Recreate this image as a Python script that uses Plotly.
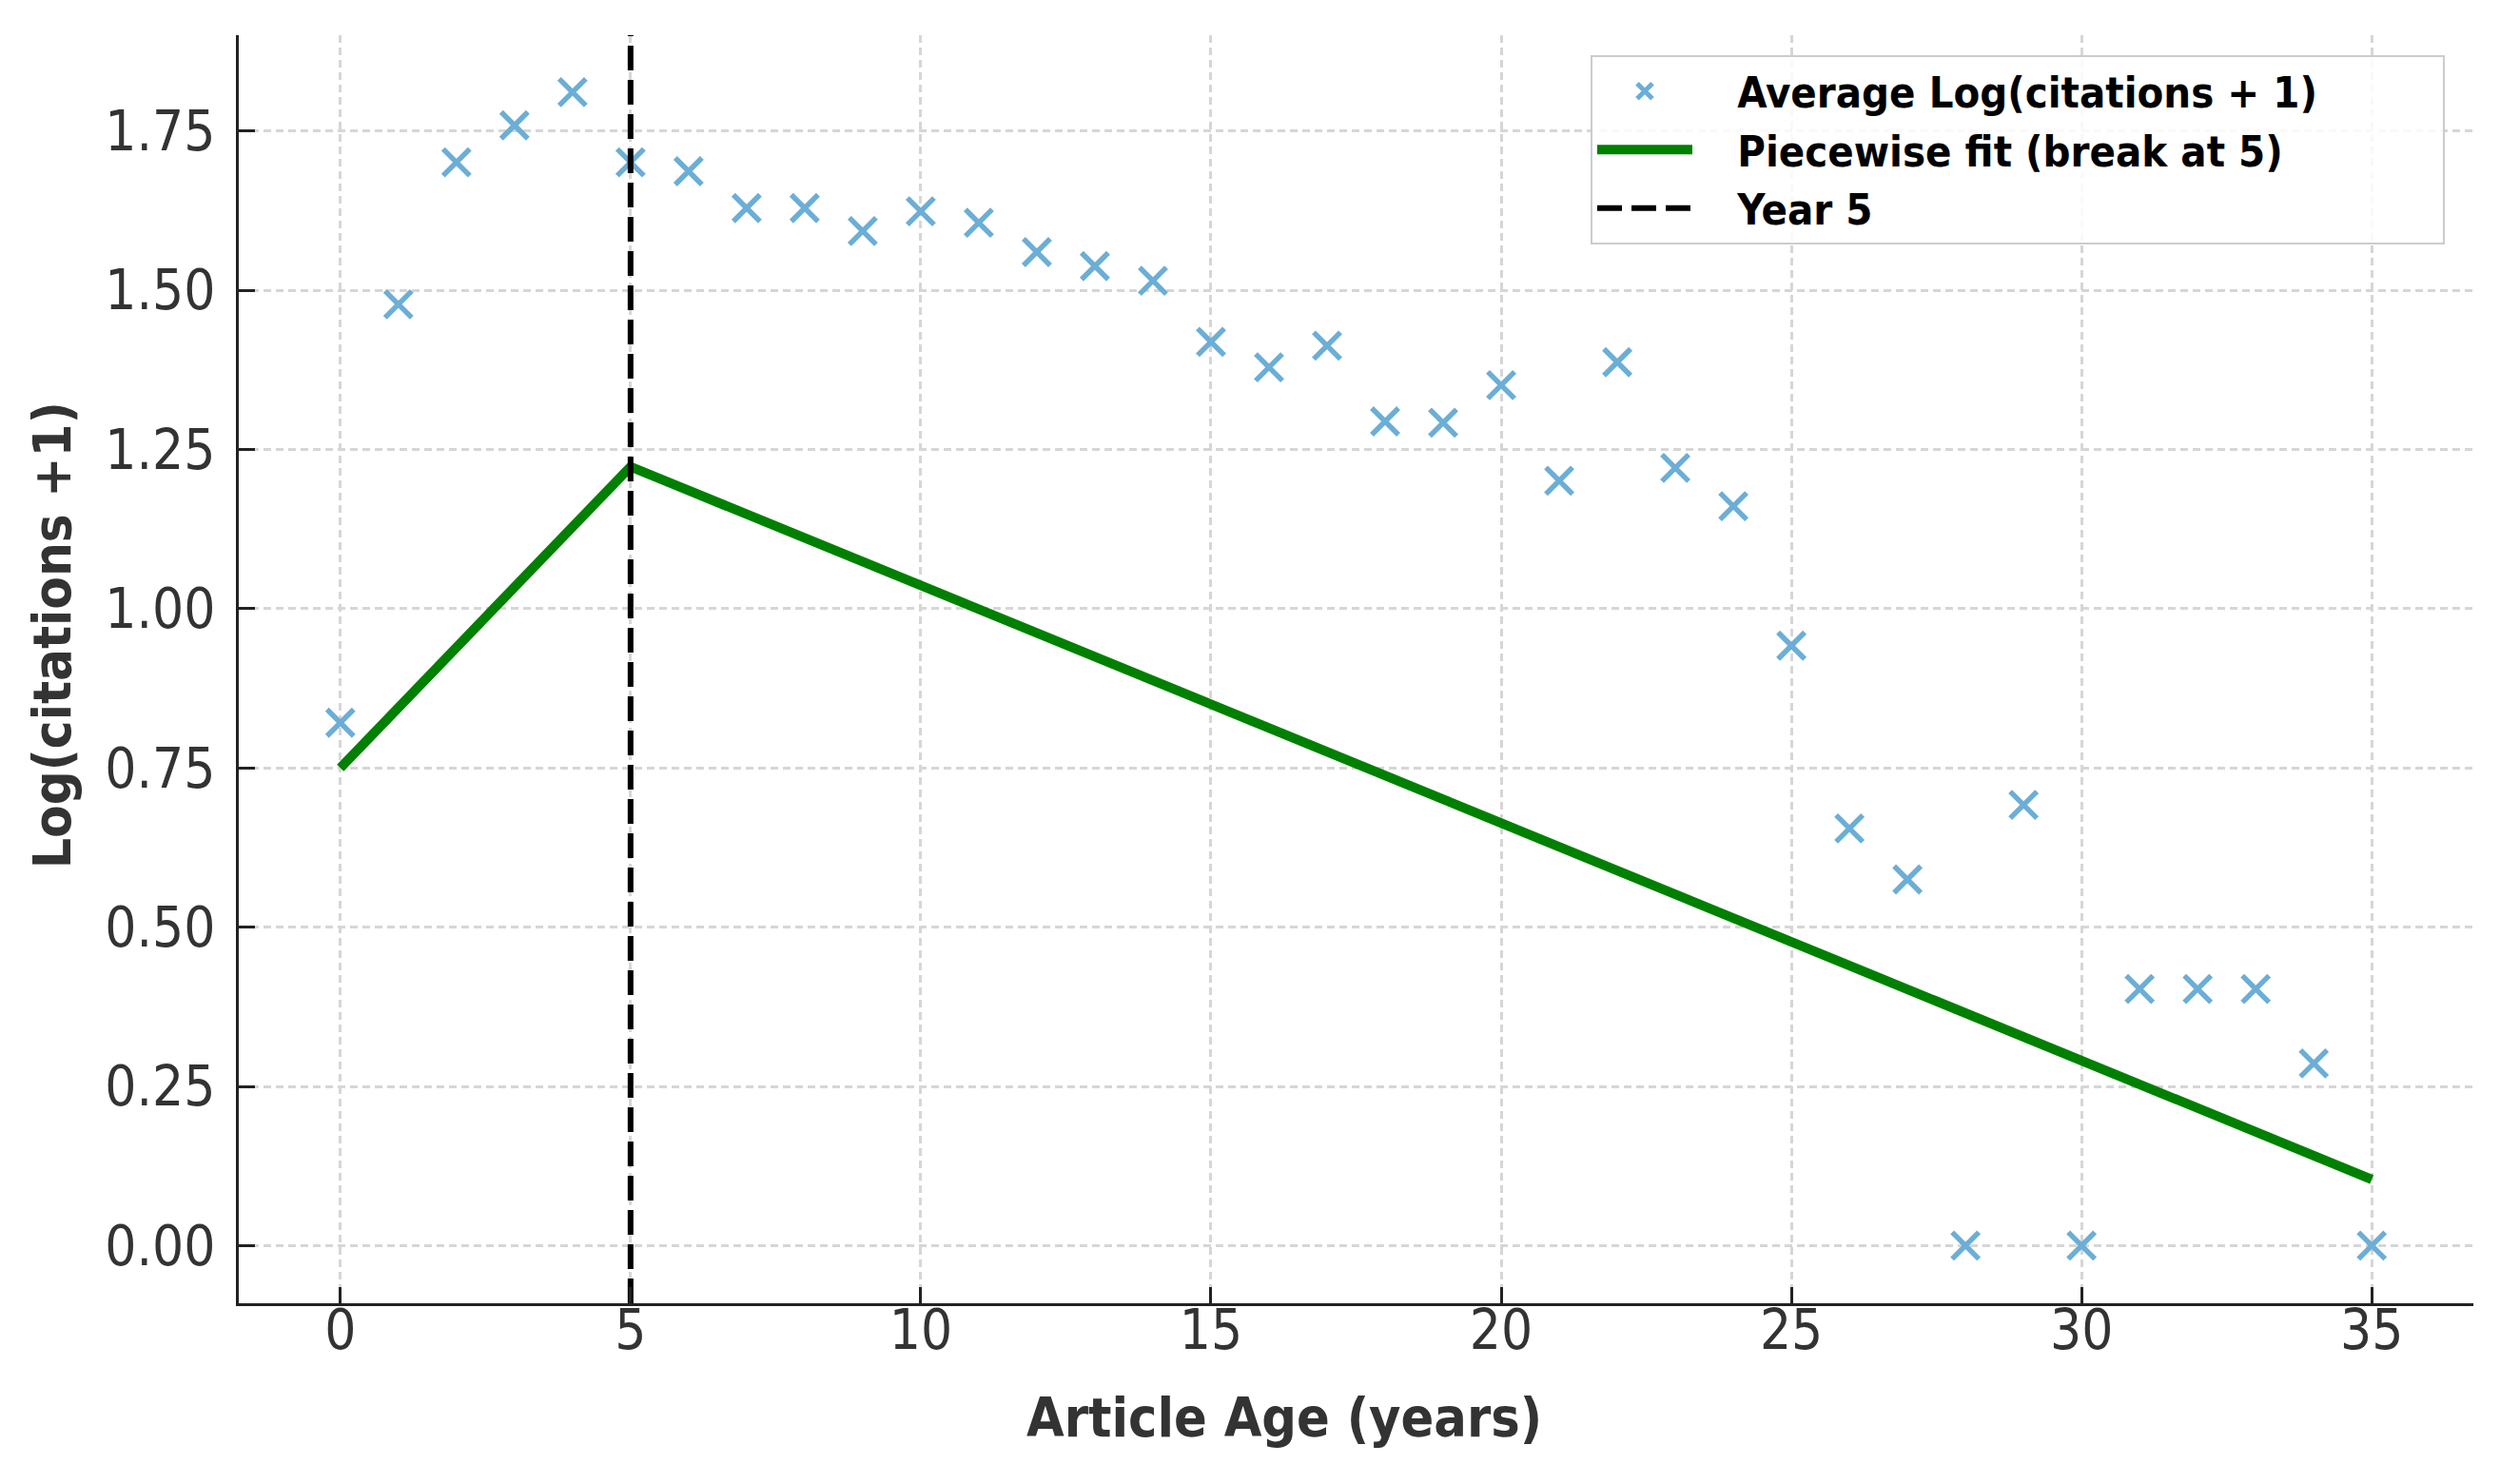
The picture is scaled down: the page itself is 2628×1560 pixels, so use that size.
import plotly.graph_objects as go

# ---- data ----
ages = list(range(0, 36))
avg_log_cit = [0.821, 1.478, 1.701, 1.759, 1.811, 1.701, 1.687, 1.629, 1.629, 1.593,
               1.624, 1.606, 1.560, 1.538, 1.515, 1.419, 1.379, 1.413, 1.294, 1.292,
               1.351, 1.201, 1.387, 1.221, 1.161, 0.942, 0.655, 0.575, 0.0, 0.692,
               0.0, 0.403, 0.403, 0.403, 0.286, 0.0]
fit_x = [0, 5, 35]
fit_y = [0.750, 1.223, 0.104]
break_year = 5

x_range = [-1.75, 36.75]
y_range = [-0.0905, 1.9005]
x_ticks = [0, 5, 10, 15, 20, 25, 30, 35]
y_ticks = [0.0, 0.25, 0.5, 0.75, 1.0, 1.25, 1.5, 1.75]

COND = "DejaVu Sans Condensed, Liberation Sans Narrow, DejaVu Sans, sans-serif"
NB = "\u00a0"

fig = go.Figure()
fig.add_trace(go.Scatter(
    x=ages, y=avg_log_cit, mode="markers",
    name=NB * 3 + "Average Log(citations + 1)" + NB * 9,
    marker=dict(symbol="x-thin", size=28, color="#6baed6",
                line=dict(color="#6baed6", width=5.5)),
))
fig.add_trace(go.Scatter(
    x=fit_x, y=fit_y, mode="lines", name=NB * 3 + "Piecewise fit (break at 5)",
    line=dict(color="#008000", width=10),
))
fig.add_trace(go.Scatter(
    x=[break_year, break_year], y=y_range, mode="lines", name=NB * 3 + "Year 5",
    line=dict(color="#000000", width=6, dash="26px,10px"),
))

axis_common = dict(
    showline=True, linecolor="#222222", linewidth=3, mirror=False,
    ticks="inside", ticklen=17, tickwidth=3, tickcolor="#222222",
    showgrid=True, gridcolor="#d6d6d6", gridwidth=2.5, griddash="8px,5px",
    zeroline=False,
    tickfont=dict(family=COND, size=58, color="#333333"),
)

fig.update_xaxes(range=x_range, tickvals=x_ticks, ticktext=[str(v) for v in x_ticks],
                 ticklabelstandoff=-25, **axis_common)
fig.update_yaxes(range=y_range, tickvals=y_ticks, ticktext=[f"{v:.2f}" for v in y_ticks],
                 ticklabelstandoff=10, **axis_common)

fig.add_annotation(text="<b>Article Age (years)</b>", xref="paper", yref="paper",
                   x=(1342 - 243) / 2349, y=(1362 - 1482) / 1333,
                   xanchor="center", yanchor="middle", showarrow=False,
                   font=dict(family=COND, size=57, color="#333333"))
fig.add_annotation(text="<b>Log(citations +1)</b>", xref="paper", yref="paper",
                   x=(46 - 243) / 2349, y=(1362 - 660) / 1333, textangle=-90,
                   xanchor="center", yanchor="middle", showarrow=False,
                   font=dict(family=COND, size=56, color="#333333"))

fig.update_layout(
    width=2628, height=1560,
    margin=dict(l=243, r=36, t=29, b=198),
    paper_bgcolor="white", plot_bgcolor="white",
    showlegend=True,
    legend=dict(
        x=(2562 - 243) / 2349, y=(1362 - 50) / 1333, xanchor="right", yanchor="top",
        bgcolor="rgba(255,255,255,0.85)", bordercolor="#cccccc", borderwidth=2,
        font=dict(family=COND, size=45, color="#000000", weight="bold"),
        itemwidth=100,
    ),
)

fig.write_html("out.html")
